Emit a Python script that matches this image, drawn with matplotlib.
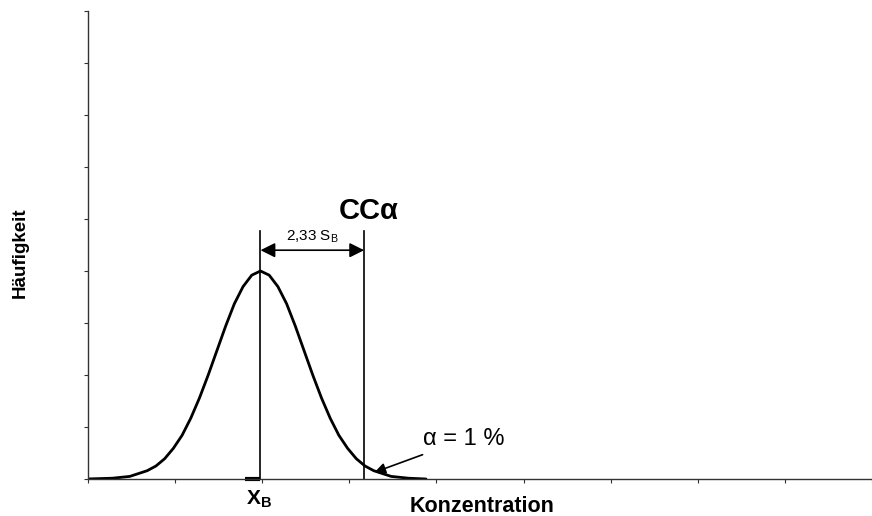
import numpy as np
import matplotlib.pyplot as plt

plt.rcParams['font.family'] = ['Liberation Sans', 'DejaVu Sans']

# Curve points (x and y in tick units)
curve_x = [0.0, 0.3, 0.5, 0.7, 0.8, 0.9, 1.0, 1.1, 1.2, 1.3, 1.4, 1.5, 1.6,
           1.7, 1.8, 1.9, 2.0, 2.1, 2.2, 2.3, 2.4, 2.5, 2.6, 2.7, 2.8, 2.9,
           3.0, 3.1, 3.2, 3.3, 3.5, 3.7, 3.9]
curve_y = [0.0, 0.015, 0.05, 0.16, 0.25, 0.39, 0.59, 0.84, 1.17, 1.56, 2.0,
           2.47, 2.94, 3.37, 3.70, 3.92, 4.0, 3.92, 3.70, 3.37, 2.94, 2.47,
           2.0, 1.56, 1.17, 0.84, 0.59, 0.39, 0.25, 0.16, 0.05, 0.015, 0.0]

x_b = 1.98
cc_alpha = 3.17
line_top = 4.77
arrow_y = 4.40

x_ticks = list(range(0, 10))
y_ticks = list(range(0, 10))

fig = plt.figure(figsize=(8.72, 5.16), dpi=100)
ax = fig.add_axes([88 / 872, 37 / 516, 784 / 872, 468 / 516])

ax.plot([x - 0.02 for x in curve_x], curve_y, color='black', lw=2.0,
        solid_capstyle='round', solid_joinstyle='round')

# vertical lines for x_B and CC alpha
ax.plot([x_b, x_b], [0, line_top], color='black', lw=1.2)
ax.plot([cc_alpha, cc_alpha], [0, line_top], color='black', lw=1.2)

# double arrow 2,33 s_B
ax.annotate('', xy=(x_b, arrow_y), xytext=(cc_alpha, arrow_y),
            arrowprops=dict(arrowstyle='<|-|>', color='black', lw=1.2,
                            mutation_scale=22, shrinkA=0, shrinkB=0))
ax.text((x_b + cc_alpha) / 2, 4.66, r'2,33 S$_\mathregular{B}$', ha='center',
        va='center', fontsize=11)
ax.text(3.22, 5.15, 'CCα', ha='center', va='center', fontsize=21,
        fontweight='bold')

# alpha annotation
ax.annotate('α = 1 %', xy=(3.29, 0.13), xytext=(3.85, 0.76),
            ha='left', va='center', fontsize=17,
            arrowprops=dict(arrowstyle='-|>', color='black', lw=1.2,
                            mutation_scale=16, shrinkA=3, shrinkB=0))

# x_B mark on the axis
ax.plot([1.8, x_b], [0, 0], color='black', lw=3, clip_on=False,
        solid_capstyle='butt')
ax.text(1.96, -0.38, r'X$_\mathregular{B}$', ha='center', va='center',
        fontsize=15, fontweight='bold')

ax.set_xlim(0, 784 / 88.25)
ax.set_ylim(0, 9)
ax.set_xticks(x_ticks)
ax.set_yticks(y_ticks)
ax.set_xticklabels([])
ax.set_yticklabels([])
ax.tick_params(direction='out', length=3, width=0.8, colors='#333333')
for side in ['top', 'right']:
    ax.spines[side].set_visible(False)
for side in ['left', 'bottom']:
    ax.spines[side].set_color('#333333')
    ax.spines[side].set_linewidth(1.0)

fig.text(482 / 872, 1 - 507 / 516, 'Konzentration', ha='center', va='center',
         fontsize=15.5, fontweight='bold')
fig.text(20 / 872, 1 - 253 / 516, 'Häufigkeit', ha='center', va='center',
         rotation=90, fontsize=13.5, fontweight='bold')

fig.savefig('out.png', dpi=100)
